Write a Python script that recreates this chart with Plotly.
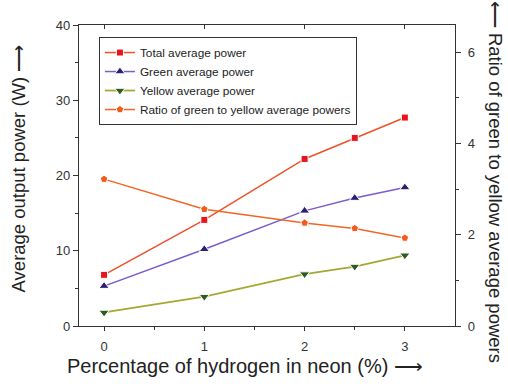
import plotly.graph_objects as go

hydrogen_pct = [0, 1, 2, 2.5, 3]
total_power = [6.8, 14.1, 22.2, 25.0, 27.7]
green_power = [5.3, 10.2, 15.3, 17.0, 18.4]
yellow_power = [1.8, 3.9, 6.9, 7.9, 9.4]
ratio_gy = [3.22, 2.56, 2.26, 2.14, 1.93]

FONT = "Liberation Sans, Arial, sans-serif"

fig = go.Figure()
fig.add_trace(go.Scatter(
    x=hydrogen_pct, y=total_power, name="Total average power", mode="lines+markers",
    line=dict(color="#f0502a", width=1.5),
    marker=dict(symbol="square", size=7, color="#e8141c", line=dict(color="white", width=1))))
fig.add_trace(go.Scatter(
    x=hydrogen_pct, y=green_power, name="Green average power", mode="lines+markers",
    line=dict(color="#7a5ccc", width=1.5),
    marker=dict(symbol="triangle-up", size=9, color="#2b1f6e", line=dict(color="white", width=1))))
fig.add_trace(go.Scatter(
    x=hydrogen_pct, y=yellow_power, name="Yellow average power", mode="lines+markers",
    line=dict(color="#a6a832", width=1.8),
    marker=dict(symbol="triangle-down", size=9, color="#2f5a22", line=dict(color="white", width=1))))
fig.add_trace(go.Scatter(
    x=hydrogen_pct, y=ratio_gy, name="Ratio of green to yellow average powers", mode="lines+markers",
    yaxis="y2",
    line=dict(color="#f26524", width=1.5),
    marker=dict(symbol="pentagon", size=8, color="#f25a1e", line=dict(color="white", width=1))))

# invisible trace for top mirrored ticks
fig.add_trace(go.Scatter(x=[None], y=[None], xaxis="x2", showlegend=False, hoverinfo="skip"))

axis_common = dict(showgrid=False, zeroline=False, showline=True, linecolor="#333",
                   linewidth=1.2, tickcolor="#333", tickfont=dict(family=FONT, size=13, color="#333"))

fig.update_layout(
    width=508, height=384,
    margin=dict(l=79, r=53, t=25, b=58),
    paper_bgcolor="white", plot_bgcolor="white",
    font=dict(family=FONT, color="#333"),
    xaxis=dict(range=[-0.25, 3.5], tickvals=[0, 1, 2, 3], ticks="outside", ticklen=4,
               ticklabelstandoff=4,
               minor=dict(tickvals=[0.5, 1.5, 2.5], ticks="outside", ticklen=3, tickcolor="#333"),
               **axis_common),
    xaxis2=dict(range=[-0.25, 3.5], overlaying="x", side="top", tickvals=[0, 1, 2, 3],
                ticks="inside", ticklen=4, showticklabels=False, showgrid=False, zeroline=False,
                showline=True, linecolor="#333", linewidth=1.2, tickcolor="#333"),
    yaxis=dict(range=[0, 40], tickvals=[0, 10, 20, 30, 40], ticks="outside", ticklen=5,
               minor=dict(tickvals=[5, 15, 25, 35], ticks="outside", ticklen=3, tickcolor="#333"),
               **axis_common),
    yaxis2=dict(range=[0, 6.6], overlaying="y", side="right", tickvals=[0, 2, 4, 6],
                ticks="outside", ticklen=5, ticklabelstandoff=4,
                minor=dict(tickvals=[1, 3, 5], ticks="outside", ticklen=3, tickcolor="#333"),
                **axis_common),
    legend=dict(x=0.053, y=0.96, xanchor="left", yanchor="top",
                bgcolor="white", bordercolor="#333", borderwidth=1,
                font=dict(family=FONT, size=11.8, color="#222"),
                tracegroupgap=0, itemwidth=30),
    showlegend=True,
)

fig.add_annotation(text="Percentage of hydrogen in neon (%) ⟶", xref="paper", yref="paper",
                   x=-0.037, y=-0.09, xanchor="left", yanchor="top", showarrow=False,
                   font=dict(family=FONT, size=20, color="#222"))
fig.add_annotation(text="Average output power (W) ⟶", xref="paper", yref="paper",
                   x=-0.16, y=0.523, xanchor="center", yanchor="middle", textangle=-90,
                   showarrow=False, font=dict(family=FONT, size=18.5, color="#222"))
fig.add_annotation(text="⟵ Ratio of green to yellow average powers", xref="paper", yref="paper",
                   x=1.11, y=0.478, xanchor="center", yanchor="middle", textangle=90,
                   showarrow=False, font=dict(family=FONT, size=18.5, color="#222"))

fig.write_html("out.html", config={"displayModeBar": False},
               post_script="document.body.style.margin='0';document.body.style.overflow='hidden';")
